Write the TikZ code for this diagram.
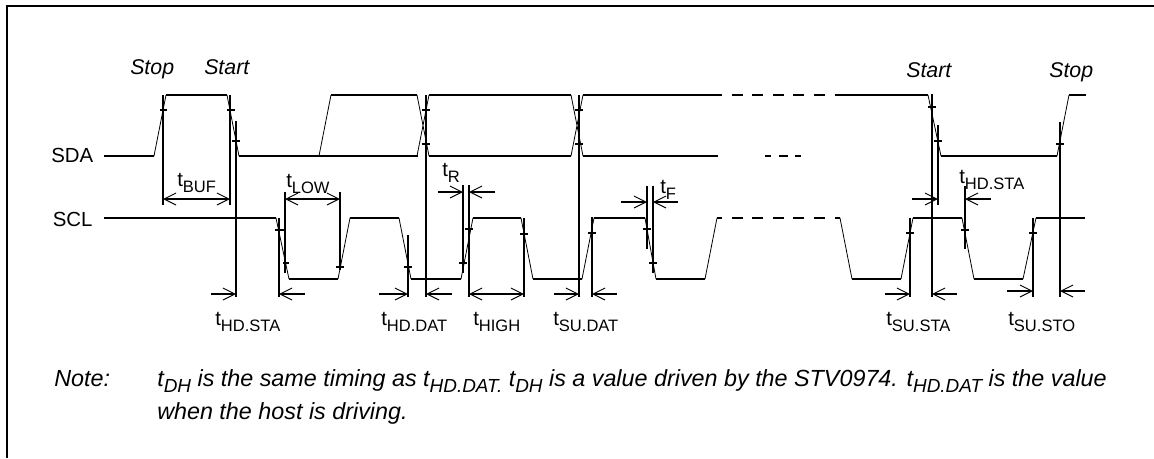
\documentclass[tikz,border=0pt]{standalone}
\usepackage{fontspec}
\setmainfont{Liberation Sans}
\usetikzlibrary{arrows.meta}
\newcommand{\tm}[2][12.4]{t\raisebox{-5pt}{\fontsize{#1}{#1}\selectfont #2}}
\tikzset{
  level/.style={line width=1.1pt},
  levelgap/.style={line width=1.1pt,dash pattern=on 8.25pt off 7.1pt},
  ramp/.style={line width=0.6pt},
  vmark/.style={line width=1.1pt},
  timing/.style={line width=0.9pt,-{Straight Barb[length=9pt,width=9pt,line width=0.7pt]}},
  timing both/.style={line width=0.9pt,{Straight Barb[length=9pt,width=9pt,line width=0.7pt]}-{Straight Barb[length=9pt,width=9pt,line width=0.7pt]}},
  lab/.style={anchor=base west,inner sep=0pt,font=\fontsize{15.3}{17}\selectfont},
  ital/.style={anchor=base west,inner sep=0pt,font=\fontsize{16}{18}\selectfont\itshape},
  noteline/.style={anchor=base west,inner sep=0pt,font=\fontsize{17.5}{20}\selectfont\itshape},
}
\begin{document}
\begin{tikzpicture}[x=0.75pt,y=-0.75pt]
  \useasboundingbox (0,0) rectangle (1154,458);
  \draw[line width=1.5pt] (1154,5.5) -- (7,5.5) -- (7,458);

  \node[lab] (sda) at (51,162) {SDA};
  \node[lab] (scl) at (52.5,226) {SCL};
  \node[ital] (stopa) at (130,74) {Stop};
  \node[ital] (starta) at (204,74) {Start};
  \node[ital] (startb) at (906,77) {Start};
  \node[ital] (stopb) at (1049,77) {Stop};

  % SDA
  \draw[level] (104,156) -- (154,156) (166,95) -- (227,95) (239,156) -- (418,156);
  \draw[level] (331,95) -- (417,95) (429,95) -- (571,95) (429,156) -- (571,156);
  \draw[level] (583,95) -- (722,95) (583,156) -- (718,156);
  \draw[levelgap] (732,95) -- (825,95);
  \draw[level] (835,95) -- (928,95) (941,156) -- (1057,156) (1069,95) -- (1086,95);
  \draw[level] (765,156) -- (771,156) (779,156) -- (788,156) (795,156) -- (801,156);
  \draw[ramp] (154,156) -- (166,95) (227,95) -- (239,156) (319,156) -- (331,95);
  \draw[ramp] (417,95) -- (429,156) (417,156) -- (429,95);
  \draw[ramp] (571,95) -- (583,156) (571,156) -- (583,95);
  \draw[ramp] (928,95) -- (941,156) (1057,156) -- (1069,95);

  % SCL
  \draw[level] (104,218) -- (276,218) (289,279) -- (338,279) (350,218) -- (399,218);
  \draw[level] (411,279) -- (461,279) (473,218) -- (521,218) (533,279) -- (582,279);
  \draw[level] (594,218) -- (645,218) (656,279) -- (705,279) (717,218) -- (722,218);
  \draw[levelgap] (732,218) -- (825,218);
  \draw[level] (835,218) -- (840,218) (852,279) -- (901,279) (913,218) -- (962,218);
  \draw[level] (974,279) -- (1023,279) (1036,218) -- (1085,218);
  \draw[ramp] (276,218) -- (289,279) (338,279) -- (350,218) (399,218) -- (411,279);
  \draw[ramp] (461,279) -- (473,218) (521,218) -- (533,279) (582,279) -- (594,218);
  \draw[ramp] (645,218) -- (656,279) (705,279) -- (717,218) (840,218) -- (852,279);
  \draw[ramp] (901,279) -- (913,218) (962,218) -- (974,279) (1023,279) -- (1036,218);

  % markers
  \draw[vmark] (163,95) -- (163,205) (159.5,110) -- (166.5,110);
  \draw[vmark] (230,95) -- (230,205) (227,110) -- (235,110);
  \draw[vmark] (236,121) -- (236,297) (232,141) -- (240,141);
  \draw[vmark] (279,218) -- (279,297) (275,230) -- (284,230);
  \draw[vmark] (285,192) -- (285,273) (283,263) -- (289,263);
  \draw[vmark] (340,192) -- (340,270) (336,267) -- (344,267);
  \draw[vmark] (408,235) -- (408,297) (404,267) -- (412,267);
  \draw[vmark] (426,95) -- (426,297) (422,110) -- (430,110) (422,144) -- (430,144);
  \draw[vmark] (463,185) -- (463,273) (459,263) -- (467,263);
  \draw[vmark] (469,185) -- (469,297) (465,229) -- (473,229);
  \draw[vmark] (524,218) -- (524,297) (520,234) -- (528,234);
  \draw[vmark] (579,95) -- (579,297) (575,110) -- (583,110) (575,144) -- (583,144);
  \draw[vmark] (592,217) -- (592,297) (588,233) -- (596,233);
  \draw[vmark] (647,186) -- (647,249) (643,229) -- (651,229);
  \draw[vmark] (653,186) -- (653,273) (649,263) -- (657,263);
  \draw[vmark] (910,218) -- (910,297) (906,233) -- (914,233);
  \draw[vmark] (932,94) -- (932,297) (928,107) -- (936,107);
  \draw[vmark] (938,125) -- (938,205) (934,141) -- (942,141);
  \draw[vmark] (965,186) -- (965,249) (961,230) -- (969,230);
  \draw[vmark] (1033,218) -- (1033,297) (1029,233) -- (1037,233);
  \draw[vmark] (1060,122) -- (1060,297) (1056,144) -- (1064,144);

  % timing arrows
  \draw[timing both] (163,199) -- (230,199);
  \draw[timing both] (285,199) -- (340,199);
  \draw[timing both] (469,294) -- (524,294);
  \draw[timing] (211,294) -- (236,294);
  \draw[timing] (305,294) -- (279,294);
  \draw[timing] (379,294) -- (408,294);
  \draw[timing] (452,294) -- (426,294);
  \draw[timing] (438,192) -- (463,192);
  \draw[timing] (495,192) -- (469,192);
  \draw[timing] (554,294) -- (579,294);
  \draw[timing] (617,294) -- (592,294);
  \draw[timing] (621,202) -- (647,202);
  \draw[timing] (678,202) -- (653,202);
  \draw[timing] (885,294) -- (910,294);
  \draw[timing] (957,294) -- (932,294);
  \draw[timing] (912,199) -- (938,199);
  \draw[timing] (991,199) -- (965,199);
  \draw[timing] (1007,291) -- (1033,291);
  \draw[timing] (1085,291) -- (1060,291);

  \node[lab] (tbuf) at (177,186) {\tm{BUF}};
  \node[lab] (tlow) at (286,187) {\tm{LOW}};
  \node[lab] (tr) at (442,176) {\tm{R}};
  \node[lab] (tf) at (660,193) {\tm{F}};
  \node[lab] (thdstb) at (959,183) {\tm{HD.STA}};
  \node[lab] (thdsta) at (215,325) {\tm{HD.STA}};
  \node[lab] (thddat) at (381,325) {\tm{HD.DAT}};
  \node[lab] (thigh) at (473,325) {\tm{HIGH}};
  \node[lab] (tsudat) at (553,325) {\tm{SU.DAT}};
  \node[lab] (tsusta) at (886,325) {\tm{SU.STA}};
  \node[lab] (tsusto) at (1008,325) {\tm{SU.STO}};

  \node[noteline] (note) at (54,386) {Note:};
  \node[noteline] (linea) at (157,386) {\tm[14.2]{DH} is the same timing as \tm[14.2]{HD.DAT.} \tm[14.2]{DH} is a value driven by the STV0974. \tm[14.2]{HD.DAT} is the value};
  \node[noteline] (lineb) at (157,419) {when the host is driving.};
\end{tikzpicture}
\end{document}
